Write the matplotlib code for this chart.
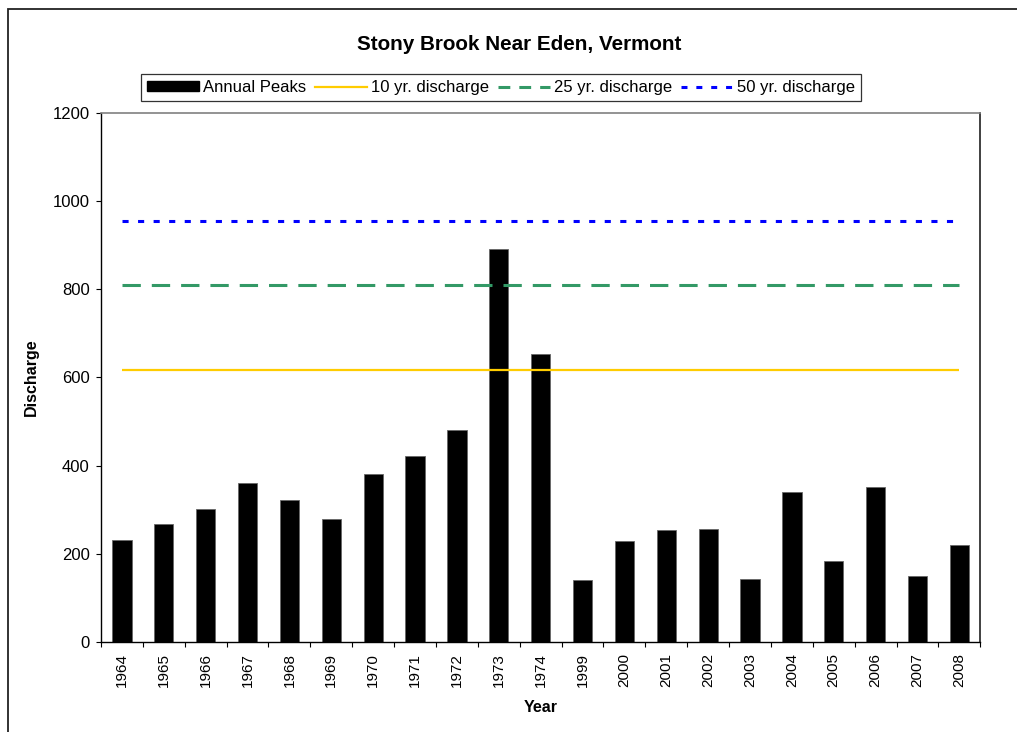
import matplotlib
matplotlib.use("Agg")
import matplotlib.pyplot as plt
from matplotlib.patches import Rectangle
from matplotlib.lines import Line2D
from matplotlib.ticker import FixedLocator

plt.rcParams['font.family'] = ['Liberation Sans', 'DejaVu Sans']
plt.rcParams['lines.scale_dashes'] = False

years = ['1964', '1965', '1966', '1967', '1968', '1969', '1970', '1971', '1972', '1973',
         '1974', '1999', '2000', '2001', '2002', '2003', '2004', '2005', '2006', '2007', '2008']
peaks = [231, 268, 302, 361, 322, 279, 381, 422, 481, 892, 652,
         141, 228, 255, 257, 143, 340, 184, 351, 149, 219]
q10 = 617
q25 = 810
q50 = 955
title = 'Stony Brook Near Eden, Vermont'
labels = ['Annual Peaks', '10 yr. discharge', '25 yr. discharge', '50 yr. discharge']

W, H = 1017, 732
fig = plt.figure(figsize=(W / 100, H / 100), dpi=100)
ax = fig.add_axes([101 / W, 1 - 642 / H, (980.3 - 101) / W, (642 - 112.7) / H])

n = len(years)
x = list(range(n))
ax.bar(x, peaks, width=0.46, color='black', edgecolor='#666666', linewidth=0.6, zorder=2)
l10, = ax.plot(x, [q10] * n, color='#FFCC00', lw=1.6, solid_capstyle='butt', zorder=3)
l25, = ax.plot(x, [q25] * n, color='#339966', lw=2.2, dashes=(13.2, 7.9), dash_capstyle='butt', zorder=3)
l50, = ax.plot(x, [q50] * n, color='#0000FF', lw=2.2, dashes=(4.4, 6.8), dash_capstyle='butt', zorder=3)

ax.set_xlim(-0.5, n - 0.5)
ax.set_ylim(0, 1200)
ax.set_yticks(range(0, 1201, 200))
ax.tick_params(axis='y', direction='out', length=3.6, width=0.8, pad=4.5, labelsize=12)

ax.xaxis.set_major_locator(FixedLocator([i - 0.5 for i in range(n + 1)]))
ax.xaxis.set_major_formatter(plt.NullFormatter())
ax.set_xticks(x, minor=True)
ax.set_xticklabels(years, minor=True, rotation=90, fontsize=11)
ax.tick_params(axis='x', which='major', direction='out', length=3.6, width=0.8)
ax.tick_params(axis='x', which='minor', length=0, pad=8.0)

for s in ['left', 'bottom']:
    ax.spines[s].set_color('black')
    ax.spines[s].set_linewidth(1.0)
ax.spines['top'].set_color('#808080')
ax.spines['top'].set_linewidth(1.2)
ax.spines['right'].set_color('#202020')
ax.spines['right'].set_linewidth(1.2)

ax.set_ylabel('Discharge', fontsize=11.5, fontweight='bold')
ax.yaxis.set_label_coords(-0.0788, 0.5)
ax.set_xlabel('Year', fontsize=11.5, fontweight='bold')
ax.xaxis.set_label_coords(0.5004, -0.124)
ax.xaxis.label.set_va('center')
ax.yaxis.label.set_va('center')

fig.text(519 / W, 1 - 45 / H, title, fontsize=14.9, fontweight='bold', ha='center', va='center')

patch = Rectangle((0, 0), 1, 1, facecolor='black', edgecolor='black')
h10 = Line2D([], [], color='#FFCC00', lw=1.6)
h25 = Line2D([], [], color='#339966', lw=2.2, dashes=(8.5, 6.5))
h50 = Line2D([], [], color='#0000FF', lw=2.2, dashes=(4.3, 6.4))
leg = fig.legend([patch, h10, h25, h50], labels, loc='center',
                 bbox_to_anchor=(501 / W, 1 - 87.7 / H), ncol=4, fontsize=12,
                 frameon=True, fancybox=False, shadow=False, edgecolor='black',
                 handlelength=3.15, handleheight=0.56, handletextpad=0.25,
                 columnspacing=0.5, borderpad=0.35, borderaxespad=0)
leg.get_frame().set_linewidth(0.9)

fig.add_artist(Rectangle((8 / W, -0.1), 1.2, 1.1 - 9 / H, transform=fig.transFigure,
                         fill=False, edgecolor='#222222', linewidth=1.3))

fig.savefig('out.png', dpi=100)
